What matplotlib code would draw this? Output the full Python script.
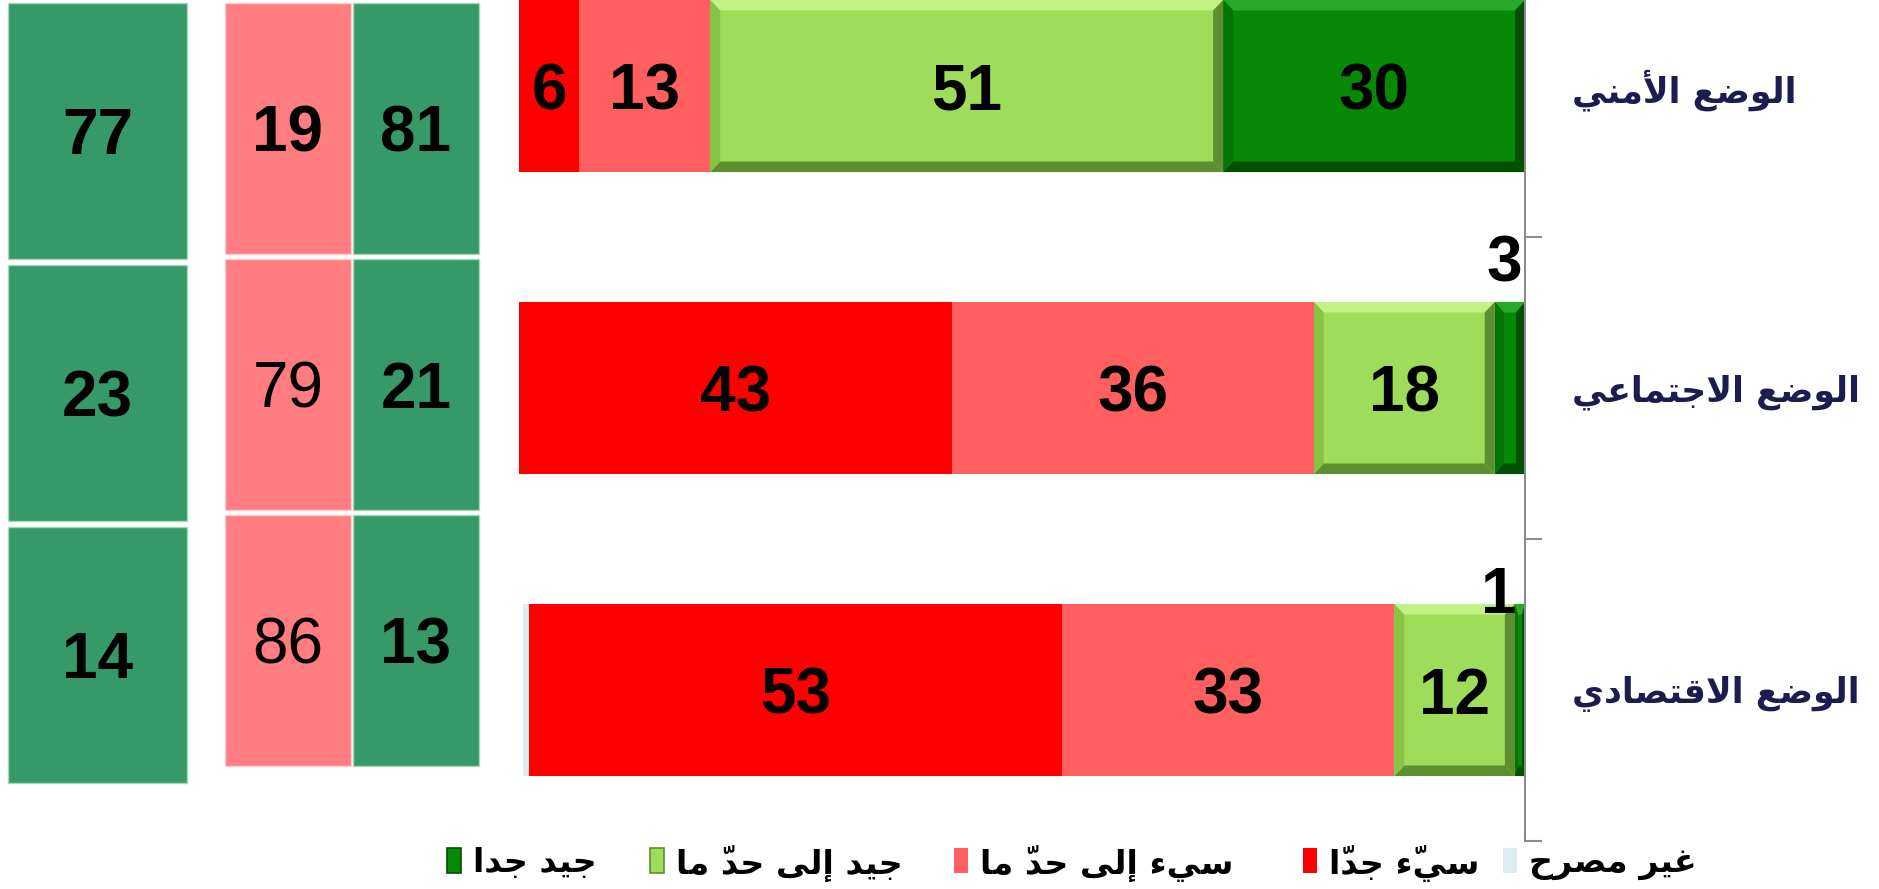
import matplotlib
matplotlib.use('Agg')
import matplotlib.pyplot as plt
from matplotlib.patches import Polygon, Rectangle
import numpy as np

# data
categories = ['الوضع الأمني', 'الوضع الاجتماعي', 'الوضع الاقتصادي']
series_names = ['جيد جدا', 'جيد إلى حدّ ما', 'سيء إلى حدّ ما', 'سيّء جدّا', 'غير مصرح']
very_good = [30, 3, 1]
good = [51, 18, 12]
bad = [13, 36, 33]
very_bad = [6, 43, 53]
undeclared = [0.3, 0, 0.6]

side_total = [77, 23, 14]
side_bad = [19, 79, 86]
side_good = [81, 21, 13]
side_bad_bold = [True, False, False]

# minimal arabic shaping (presentation forms + visual order)
FORMS = {'ء': (0xFE80, 1), 'أ': (0xFE83, 2), 'إ': (0xFE87, 2), 'ا': (0xFE8D, 2),
         'ت': (0xFE95, 4), 'ج': (0xFE9D, 4), 'ح': (0xFEA1, 4), 'د': (0xFEA9, 2),
         'ر': (0xFEAD, 2), 'س': (0xFEB1, 4), 'ص': (0xFEB9, 4), 'ض': (0xFEBD, 4),
         'ع': (0xFEC9, 4), 'غ': (0xFECD, 4), 'ق': (0xFED5, 4), 'ل': (0xFEDD, 4),
         'م': (0xFEE1, 4), 'ن': (0xFEE5, 4), 'و': (0xFEED, 2), 'ى': (0xFEEF, 2),
         'ي': (0xFEF1, 4)}
LAM_ALEF = {'ا': 0xFEFB, 'أ': 0xFEF7, 'إ': 0xFEF9}


def shape(text):
    units = []
    for c in text:
        if c == '\u0651' and units:
            units[-1][1] += c
        else:
            units.append([c, ''])
    merged = []
    i = 0
    while i < len(units):
        b, m = units[i]
        if b == 'ل' and i + 1 < len(units) and units[i + 1][0] in LAM_ALEF:
            merged.append(['LA' + units[i + 1][0], m + units[i + 1][1]])
            i += 2
        else:
            merged.append([b, m])
            i += 1

    def joins_next(b):
        return b in FORMS and FORMS[b][1] == 4

    def joins_prev(b):
        return b.startswith('LA') or (b in FORMS and FORMS[b][1] >= 2)

    out = []
    for i, (b, m) in enumerate(merged):
        p = i > 0 and joins_next(merged[i - 1][0]) and joins_prev(b)
        n = i + 1 < len(merged) and joins_next(b) and joins_prev(merged[i + 1][0])
        if b.startswith('LA'):
            g = chr(LAM_ALEF[b[2]] + (1 if p else 0))
        elif b in FORMS:
            start = FORMS[b][0]
            if p and n:
                g = chr(start + 3)
            elif p:
                g = chr(start + 1)
            elif n:
                g = chr(start + 2)
            else:
                g = chr(start)
        else:
            g = b
        # the mark is drawn over the glyph that follows it
        out.append(m + g)
    return ''.join(reversed(out))


W, H = 1879, 889
fig = plt.figure(figsize=(W / 100, H / 100), dpi=100)


def px_box(x0, x1, ytop, ybot):
    return [x0 / W, 1 - ybot / H, (x1 - x0) / W, (ybot - ytop) / H]


num_font = dict(family='Liberation Sans', fontweight='bold', fontsize=46, color='black')
ar_font = dict(family=['DejaVu Sans'], fontweight='bold')

# ---- side panel (pixel coordinates overlay)
ax2 = fig.add_axes([0, 0, 1, 1])
ax2.set_xlim(0, W)
ax2.set_ylim(H, 0)
ax2.axis('off')

green_box = '#35996a'
pink_box = '#ff7c80'
rows = np.arange(3)
ya = 3 + rows * 262 + 128
ax2.barh(ya, 179, left=8, height=256, color=green_box, edgecolor='#a8d8bc', linewidth=1)
for yy, v in zip(ya, side_total):
    ax2.text(8 + 179 / 2, yy, str(v), ha='center', va='center_baseline', **num_font)

yb = 3 + rows * 256 + 125.5
ax2.barh(yb, 126, left=225, height=251, color=pink_box, edgecolor='#ffd0d2', linewidth=1)
ax2.barh(yb, 126, left=353, height=251, color=green_box, edgecolor='#a8d8bc', linewidth=1)
for yy, v, bold in zip(yb, side_bad, side_bad_bold):
    f = dict(num_font)
    f['fontweight'] = 'bold' if bold else 'normal'
    ax2.text(225 + 63, yy, str(v), ha='center', va='center_baseline', **f)
for yy, v in zip(yb, side_good):
    ax2.text(353 + 63, yy, str(v), ha='center', va='center_baseline', **num_font)

# ---- main stacked bars (right-to-left)
ax = fig.add_axes(px_box(519, 1525, -65, 841))
ax.set_xlim(100, 0)
ax.set_ylim(2.5, -0.5)
y = np.arange(len(categories))
bar_h = 0.57

series = [very_good, good, bad, very_bad, undeclared]
colors = ['#068a06', '#9edc5a', '#ff5f5f', '#ff0000', '#daeef0']
bevels = {0: ('#2aa82a', '#057405', '#034f03'), 1: ('#c2f184', '#86c446', '#5d8f30')}


def bevel(x0, w, yc, light, mid, dark):
    bx = min(1.0, w * 0.3)
    by = 0.035
    x1 = x0 + w
    yt, ybt = yc - bar_h / 2, yc + bar_h / 2
    polys = [
        ([(x0, yt), (x1, yt), (x1 - bx, yt + by), (x0 + bx, yt + by)], light),
        ([(x0, ybt), (x1, ybt), (x1 - bx, ybt - by), (x0 + bx, ybt - by)], dark),
        ([(x1, yt), (x1, ybt), (x1 - bx, ybt - by), (x1 - bx, yt + by)], mid),
        ([(x0, yt), (x0, ybt), (x0 + bx, ybt - by), (x0 + bx, yt + by)], dark),
    ]
    for pts, c in polys:
        ax.add_patch(Polygon(pts, closed=True, facecolor=c, edgecolor='none'))


left = np.zeros(len(categories))
for k, (vals, col) in enumerate(zip(series, colors)):
    vals = np.array(vals, dtype=float)
    ax.barh(y, vals, left=left, height=bar_h, color=col, edgecolor='none')
    if k in bevels:
        for yi, l0, v in zip(y, left, vals):
            if v > 0:
                bevel(l0, v, yi, *bevels[k])
    if k < 4:
        for yi, l0, v in zip(y, left, vals):
            if v >= 5:
                ax.text(l0 + v / 2, yi, str(int(v)), ha='center', va='center_baseline', **num_font)
            elif v > 0:
                off = (-3, 20) if v >= 2 else (-8, -9)
                ax.annotate(str(int(v)), xy=(0, yi - bar_h / 2), xytext=off,
                            textcoords='offset pixels', ha='right', va='baseline', **num_font)
    left += vals

for s in ['top', 'left', 'bottom']:
    ax.spines[s].set_visible(False)
ax.spines['right'].set_color('#8c8c8c')
ax.spines['right'].set_linewidth(1.5)
ax.set_xticks([])
ax.yaxis.tick_right()
ax.set_yticks(y, labels=[shape(c) for c in categories])
ax.set_yticks(np.arange(-0.5, 3, 1), minor=True)
ax.tick_params(axis='y', which='major', length=0, pad=34, labelsize=25, labelcolor='#1c1c50')
ax.tick_params(axis='y', which='minor', length=12, width=1.5, color='#8c8c8c', direction='out')
for lab in ax.get_yticklabels():
    lab.set_fontweight('bold')
    lab.set_family(['DejaVu Sans'])
ax.patch.set_visible(False)

# ---- legend
leg_x = [447, 650, 954, 1303, 1503]
leg_colors = ['#068a06', '#9edc5a', '#ff5f5f', '#ff0000', '#daeef0']
leg_edges = ['#034f03', '#5d8f30', 'none', 'none', 'none']
for name, x0, c, ec in zip(series_names, leg_x, leg_colors, leg_edges):
    ax2.add_patch(Rectangle((x0, 848), 14, 25, facecolor=c, edgecolor=ec, linewidth=1.2))
    ax2.text(x0 + 26, 863, shape(name), ha='left', va='center', fontsize=24, color='black', **ar_font)

fig.savefig('out.png', dpi=100)
